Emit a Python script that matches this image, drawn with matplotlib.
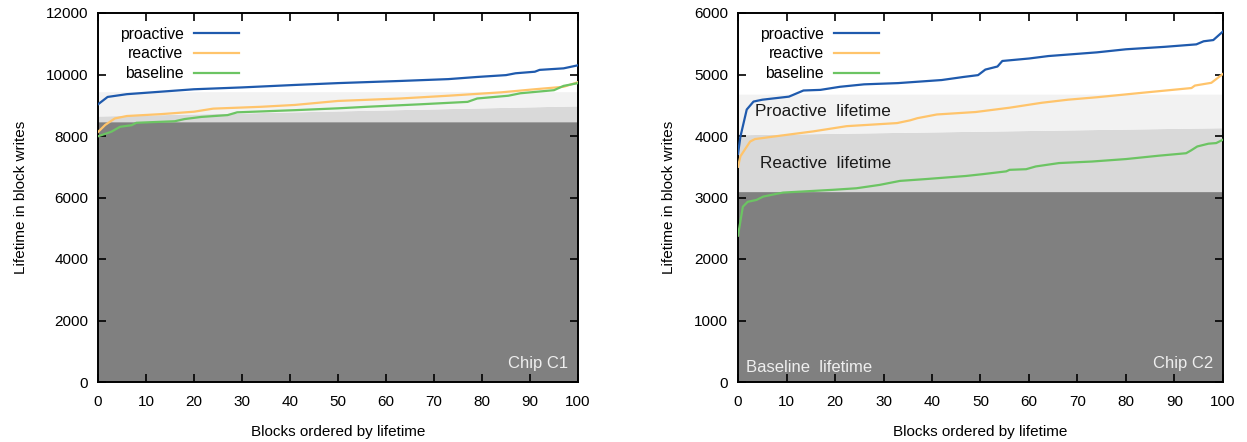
import matplotlib.pyplot as plt
import numpy as np

plt.rcParams['font.family'] = ['Liberation Sans', 'DejaVu Sans']

# ---- Chip C1 ----
c1_pro_x = [0, 2, 6, 13, 20, 30, 41, 50, 63, 73, 79, 85, 87, 91, 92, 97, 100]
c1_pro_y = [9030, 9270, 9360, 9440, 9520, 9580, 9660, 9720, 9790, 9850, 9920, 9980, 10040, 10090, 10150, 10200, 10300]
c1_rea_x = [0, 1.5, 3.5, 6, 13, 20, 24, 34, 41, 50, 63, 73, 84, 91, 97, 100]
c1_rea_y = [8130, 8360, 8570, 8650, 8710, 8790, 8890, 8950, 9010, 9140, 9220, 9310, 9420, 9520, 9600, 9750]
c1_base_x = [0, 2.8, 4.6, 7, 8, 16, 18, 21.5, 27, 29, 41, 50, 56, 67, 77, 79, 85.5, 88, 95, 97, 100]
c1_base_y = [7990, 8140, 8300, 8350, 8430, 8480, 8550, 8620, 8680, 8770, 8840, 8900, 8950, 9030, 9110, 9220, 9310, 9390, 9490, 9630, 9720]
# shaded lifetimes (at block 0 and block 100)
c1_base_life = [8460, 8460]
c1_rea_life = [8650, 8980]
c1_pro_life = [9440, 9440]

# ---- Chip C2 ----
c2_pro_x = [0, 0.5, 1.8, 3.2, 5, 10.5, 12, 13.5, 17, 21, 26, 33, 42, 46.5, 49.5, 51, 53.5, 54.5, 60, 64, 74, 80, 88, 94.5, 96, 98, 100]
c2_pro_y = [3710, 3990, 4430, 4560, 4590, 4640, 4690, 4740, 4750, 4800, 4840, 4860, 4910, 4960, 4990, 5080, 5130, 5220, 5260, 5300, 5360, 5410, 5450, 5490, 5540, 5560, 5700]
c2_rea_x = [0, 0.5, 2.5, 3.5, 8.7, 15.5, 22.4, 32.8, 35.5, 37, 41, 49, 56, 62.6, 68, 74, 83, 93.5, 94.2, 97.6, 100]
c2_rea_y = [3500, 3670, 3910, 3950, 4005, 4075, 4160, 4210, 4255, 4290, 4350, 4390, 4460, 4540, 4590, 4630, 4700, 4780, 4820, 4865, 5010]
c2_base_x = [0, 1, 2, 3.8, 5.2, 8, 9.3, 19.6, 24.4, 29.2, 33.4, 38.8, 47, 50.5, 55.3, 56, 59.4, 61.4, 66.2, 73, 80, 86.8, 92.4, 93.4, 94.7, 97, 98.6, 100]
c2_base_y = [2380, 2850, 2930, 2960, 3015, 3060, 3080, 3125, 3150, 3205, 3270, 3300, 3350, 3380, 3425, 3450, 3460, 3505, 3560, 3585, 3625, 3680, 3720, 3765, 3830, 3875, 3885, 3940]
c2_base_life = [3095, 3095]
c2_rea_life = [4020, 4135]
c2_pro_life = [4680, 4680]

life_x = [0, 100]

blue = '#1f5aad'
orange = '#ffc46b'
green = '#6cc463'


def draw_chip(ax, pro, rea, base, lifes, ymax, ystep, chip):
    base_life, rea_life, pro_life = lifes
    ax.fill_between(life_x, 0, base_life, color='#808080', lw=0, zorder=1)
    ax.fill_between(life_x, base_life, rea_life, color='#d9d9d9', lw=0, zorder=1)
    ax.fill_between(life_x, rea_life, pro_life, color='#f2f2f2', lw=0, zorder=1)

    ax.plot(pro[0], pro[1], color=blue, lw=1.6, label='proactive', zorder=3)
    ax.plot(rea[0], rea[1], color=orange, lw=1.6, label='reactive', zorder=3)
    ax.plot(base[0], base[1], color=green, lw=1.6, label='baseline', zorder=3)

    ax.set_xlim(0, 100)
    ax.set_ylim(0, ymax)
    ax.set_xticks(np.arange(0, 101, 10))
    ax.set_yticks(np.arange(0, ymax + 1, ystep))
    ax.tick_params(direction='in', top=True, right=True, length=6, width=1.2,
                   labelsize=11, colors='black')
    ax.tick_params(axis='y', pad=7)
    ax.tick_params(axis='x', pad=9)
    for s in ax.spines.values():
        s.set_linewidth(1.4)
    ax.set_xlabel('Blocks ordered by lifetime', fontsize=11, labelpad=12)
    ax.set_ylabel('Lifetime in block writes', fontsize=11, labelpad=13)

    leg = ax.legend(loc='upper left', bbox_to_anchor=(0.045, 0.963), markerfirst=False,
                    frameon=False, fontsize=11.3, handlelength=2.9, handletextpad=0.65,
                    labelspacing=0.3, borderpad=0, borderaxespad=0)
    leg.set_zorder(5)

    ax.text(98, ymax * 0.05, chip, ha='right', va='center', fontsize=12, color='#eeeeee', zorder=4)


fig = plt.figure(figsize=(12.47, 4.42), dpi=100)
ax1 = fig.add_axes([98 / 1247, 60 / 442, 480 / 1247, 369 / 442])
ax2 = fig.add_axes([738 / 1247, 60 / 442, 485 / 1247, 369 / 442])

draw_chip(ax1, (c1_pro_x, c1_pro_y), (c1_rea_x, c1_rea_y), (c1_base_x, c1_base_y),
          (c1_base_life, c1_rea_life, c1_pro_life), 12000, 2000, 'Chip C1')
draw_chip(ax2, (c2_pro_x, c2_pro_y), (c2_rea_x, c2_rea_y), (c2_base_x, c2_base_y),
          (c2_base_life, c2_rea_life, c2_pro_life), 6000, 1000, 'Chip C2')

ax2.text(3.5, 4400, 'Proactive  lifetime', ha='left', va='center', fontsize=12.3, color='#1a1a1a', zorder=4)
ax2.text(4.5, 3560, 'Reactive  lifetime', ha='left', va='center', fontsize=12.3, color='#1a1a1a', zorder=4)
ax2.text(1.6, 240, 'Baseline  lifetime', ha='left', va='center', fontsize=12, color='#eeeeee', zorder=4)

fig.savefig('out.png', dpi=100)
